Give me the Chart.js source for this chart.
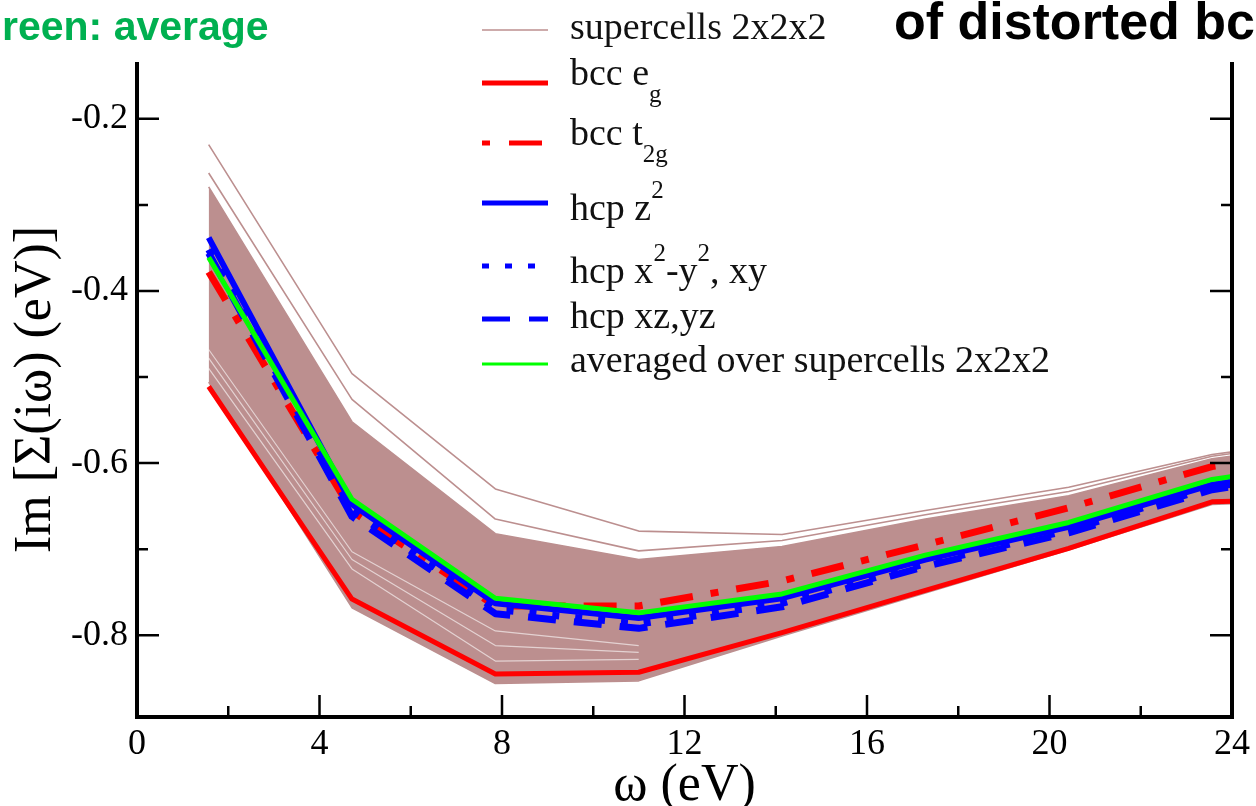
<!DOCTYPE html>
<html>
<head>
<meta charset="utf-8">
<script src="https://cdn.jsdelivr.net/npm/chart.js@4.4.1/dist/chart.umd.min.js"></script>
<style>
  html, body { margin: 0; padding: 0; background: #fff; }
  #wrap { position: relative; width: 1256px; height: 806px; overflow: hidden; }
  #c { position: absolute; left: 0; top: 0; }
  .cap { position: absolute; font-family: "Liberation Sans", Arial, sans-serif; font-weight: bold; white-space: nowrap; line-height: 1; }
  #legend { position: absolute; left: 482px; top: 0; font-family: "Liberation Serif", "Times New Roman", serif; font-size: 38px; color: #111; }
  .row { position: absolute; left: 0; width: 720px; }
  .row svg { position: absolute; left: 0; }
  .row .t { position: absolute; left: 88px; line-height: 1; white-space: nowrap; }
  .sub, .sup { position: relative; font-size: 25px; }
</style>
</head>
<body>
<div id="wrap">
  <canvas id="c" width="1256" height="806"></canvas>
  <div class="cap" style="left:2px; top:6px; font-size:41px; color:#00b050;">reen: average</div>
  <div class="cap" style="right:1px; top:-5px; font-size:52px; color:#000;">of distorted bc</div>
  <div id="legend"></div>
</div>
<script>
// Matsubara frequencies (eV)
const omega = [1.571, 4.712, 7.854, 10.996, 14.137, 17.279, 20.420, 23.562, 26.704];

// Im Sigma(i omega), eV
const bccEg     = [-0.511, -0.758, -0.845, -0.843, -0.797, -0.748, -0.699, -0.645, -0.640];
const bccT2g    = [-0.378, -0.656, -0.766, -0.766, -0.737, -0.695, -0.652, -0.604, -0.580];
const hcpZ2     = [-0.338, -0.648, -0.763, -0.780, -0.757, -0.712, -0.674, -0.625, -0.600];
const hcpX2Y2   = [-0.352, -0.655, -0.770, -0.787, -0.763, -0.717, -0.678, -0.628, -0.603];
const hcpXzYz   = [-0.356, -0.662, -0.775, -0.792, -0.767, -0.720, -0.681, -0.631, -0.606];
const scAverage = [-0.361, -0.642, -0.757, -0.774, -0.752, -0.707, -0.669, -0.619, -0.595];

// supercells 2x2x2: envelope of the dense bundle + the separate upper curves
const scBandTop    = [-0.279, -0.552, -0.682, -0.712, -0.697, -0.665, -0.638, -0.595, -0.572];
const scBandBottom = [-0.506, -0.768, -0.856, -0.853, -0.801, -0.751, -0.701, -0.648, -0.643];
const scOuter1     = [-0.230, -0.496, -0.630, -0.679, -0.683, -0.655, -0.628, -0.590, -0.568];
const scOuter2     = [-0.263, -0.526, -0.665, -0.702, -0.690, -0.660, -0.633, -0.592, -0.570];
// light streaks between curves in the lower part of the bundle
const scStreak1 = [-0.468, -0.703, -0.795, -0.812, null, null, null, null, null];
const scStreak2 = [-0.478, -0.712, -0.812, -0.820, null, null, null, null, null];
const scStreak3 = [-0.490, -0.723, -0.830, -0.828, null, null, null, null, null];

// axes
const xMajor = [0, 4, 8, 12, 16, 20, 24];
const xMinor = [2, 6, 10, 14, 18, 22];
const yMajor = [-0.2, -0.4, -0.6, -0.8];
const yMinor = [-0.3, -0.5, -0.7];

const BROWN = '#bc8f8f';
const pts = (arr) => arr.map((v, i) => ({ x: omega[i], y: v }));

function line(label, data, color, width, dash, order, extra) {
  return Object.assign({
    label: label,
    data: pts(data),
    borderColor: color,
    borderWidth: width,
    borderDash: dash || [],
    borderCapStyle: 'butt',
    borderJoinStyle: 'round',
    pointRadius: 0,
    tension: 0,
    fill: false,
    spanGaps: false,
    order: order
  }, extra || {});
}

const datasets = [
  line('averaged over supercells 2x2x2', scAverage, '#00ff00', 5, null, 0),
  line('hcp xz,yz', hcpXzYz, '#0000ff', 7, [28, 18], 1),
  line('hcp x2-y2, xy', hcpX2Y2, '#0000ff', 7, [7, 16], 2),
  line('hcp z2', hcpZ2, '#0000ff', 6, null, 3),
  line('bcc t2g', bccT2g, '#ff0000', 7, [33, 18, 8, 18], 4),
  line('bcc eg', bccEg, '#ff0000', 5, null, 5),
  line('streak1', scStreak1, 'rgba(255,255,255,0.6)', 1.2, null, 6),
  line('streak2', scStreak2, 'rgba(255,255,255,0.6)', 1.2, null, 7),
  line('streak3', scStreak3, 'rgba(255,255,255,0.6)', 1.2, null, 8),
  line('outer1', scOuter1, BROWN, 1.6, null, 9),
  line('outer2', scOuter2, BROWN, 1.6, null, 10),
  line('supercells 2x2x2', scBandTop, BROWN, 1.6, null, 11, { fill: '+1', backgroundColor: BROWN }),
  line('band bottom', scBandBottom, BROWN, 1.6, null, 12)
];

// axis frame with inward major/minor ticks
const frame = {
  id: 'frame',
  afterDatasetsDraw(chart) {
    const { ctx, chartArea: a, scales: { x, y } } = chart;
    ctx.save();
    ctx.strokeStyle = '#000';
    ctx.lineWidth = 4;
    ctx.beginPath();
    ctx.moveTo(a.left, a.top);
    ctx.lineTo(a.left, a.bottom);
    ctx.lineTo(a.right, a.bottom);
    ctx.lineTo(a.right, a.top);
    ctx.stroke();
    ctx.lineWidth = 2.5;
    ctx.beginPath();
    xMajor.concat(xMinor).forEach(v => {
      const px = x.getPixelForValue(v);
      const len = xMajor.includes(v) ? 22 : 11;
      ctx.moveTo(px, a.bottom);
      ctx.lineTo(px, a.bottom - len);
    });
    yMajor.concat(yMinor).forEach(v => {
      const py = y.getPixelForValue(v);
      const len = yMajor.includes(v) ? 22 : 11;
      ctx.moveTo(a.left, py);
      ctx.lineTo(a.left + len, py);
      ctx.moveTo(a.right, py);
      ctx.lineTo(a.right - len, py);
    });
    ctx.stroke();
    ctx.restore();
  }
};

const serif = '"Liberation Serif", "Times New Roman", serif';

new Chart(document.getElementById('c'), {
  type: 'line',
  data: { datasets: datasets },
  options: {
    responsive: false,
    animation: false,
    events: [],
    layout: { padding: { left: 0, top: 62, right: 18, bottom: 0 } },
    plugins: { legend: { display: false }, tooltip: { enabled: false } },
    scales: {
      x: {
        type: 'linear', min: 0, max: 24,
        afterBuildTicks: (s) => { s.ticks = xMajor.map(v => ({ value: v })); },
        afterFit: (s) => { s.height = 89; },
        grid: { display: false, drawTicks: false }, border: { display: false },
        ticks: { color: '#000', padding: 6, maxRotation: 0, font: { family: serif, size: 36 }, callback: (v) => String(v) },
        title: { display: true, text: 'ω (eV)', color: '#000', padding: 0, font: { family: serif, size: 52, lineHeight: 0.75 } }
      },
      y: {
        type: 'linear', min: -0.895, max: -0.134,
        afterBuildTicks: (s) => { s.ticks = yMajor.map(v => ({ value: v })); },
        afterFit: (s) => { s.width = 137; },
        grid: { display: false, drawTicks: false }, border: { display: false },
        ticks: { color: '#000', padding: 9, font: { family: serif, size: 36 }, callback: (v) => v.toFixed(1) },
        title: { display: true, text: 'Im [Σ(iω) (eV)]', color: '#000', padding: { top: 10, bottom: 0 }, font: { family: serif, size: 52, lineHeight: 1 } }
      }
    }
  },
  plugins: [frame]
});

// legend (xmgrace style, no box)
const legendRows = [
  { y: 30, base: 39, html: 'supercells 2x2x2', stroke: BROWN, w: 1.6, dash: '' },
  { y: 83, base: 85, html: 'bcc e<span class="sub" style="top:17px">g</span>', stroke: '#ff0000', w: 5, dash: '' },
  { y: 143, base: 145, html: 'bcc t<span class="sub" style="top:17px">2g</span>', stroke: '#ff0000', w: 5, dash: '8 19 33 100' },
  { y: 203, base: 220, html: 'hcp z<span class="sup" style="top:-22px">2</span>', stroke: '#0000ff', w: 5, dash: '' },
  { y: 266, base: 283, html: 'hcp x<span class="sup" style="top:-22px">2</span>-y<span class="sup" style="top:-22px">2</span>, xy', stroke: '#0000ff', w: 5, dash: '7 16' },
  { y: 319, base: 328, html: 'hcp xz,yz', stroke: '#0000ff', w: 5, dash: '28 19' },
  { y: 364, base: 372, html: 'averaged over supercells 2x2x2', stroke: '#00ff00', w: 3, dash: '' }
];
const lg = document.getElementById('legend');
legendRows.forEach(r => {
  const row = document.createElement('div');
  row.className = 'row';
  row.style.top = '0px';
  row.innerHTML =
    '<svg width="66" height="12" style="top:' + (r.y - 6) + 'px">' +
    '<line x1="0" y1="6" x2="66" y2="6" stroke="' + r.stroke + '" stroke-width="' + r.w + '"' +
    (r.dash ? ' stroke-dasharray="' + r.dash + '"' : '') + '/></svg>' +
    '<span class="t" style="top:' + (r.base - 32) + 'px">' + r.html + '</span>';
  lg.appendChild(row);
});
</script>
</body>
</html>
